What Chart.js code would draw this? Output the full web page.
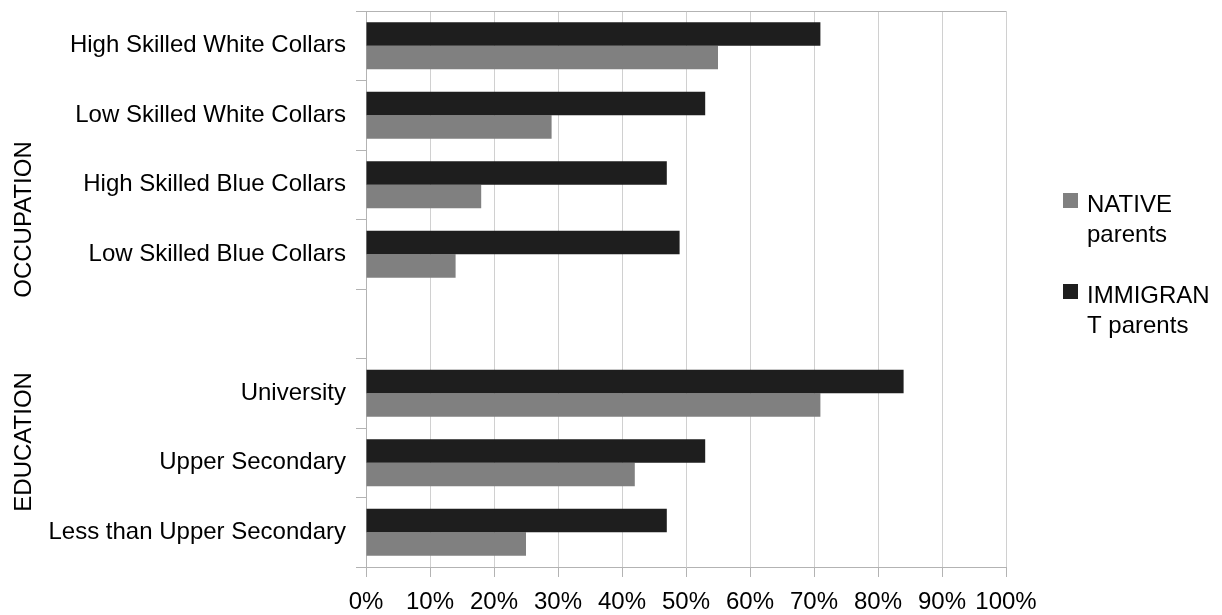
<!DOCTYPE html>
<html>
<head>
<meta charset="utf-8">
<script src="https://cdn.jsdelivr.net/npm/chart.js@4/dist/chart.umd.min.js"></script>
<style>
  html, body { margin: 0; padding: 0; background: #ffffff; }
  #wrap { width: 1222px; height: 615px; position: relative; }
  canvas { display: block; }
</style>
</head>
<body>
<div id="wrap"><canvas id="chart" width="1222" height="615"></canvas></div>
<script>
// Row labels, top to bottom; the blank row separates the two groups
const categories = [
  'High Skilled White Collars',
  'Low Skilled White Collars',
  'High Skilled Blue Collars',
  'Low Skilled Blue Collars',
  '',
  'University',
  'Upper Secondary',
  'Less than Upper Secondary'
];

// Share (%) by parents' origin
const immigrantParents = [71, 53, 47, 49, null, 84, 53, 47];
const nativeParents    = [55, 29, 18, 14, null, 71, 42, 25];

const seriesNames = {
  native: ['NATIVE', 'parents'],
  immigrant: ['IMMIGRAN', 'T parents']
};

// Group captions on the far left, positioned at a category index
const groupLabels = ['OCCUPATION', 'EDUCATION'];
const groupCenters = [2.5, 5.7];

const xTicks = [0, 10, 20, 30, 40, 50, 60, 70, 80, 90, 100];

const FONT = '"Liberation Sans", Arial, sans-serif';
const FONT_SIZE = 24;
const DARK = '#1e1e1e';
const GREY = '#808080';
const AXIS = '#b3b3b3';
const GRID = '#d0d0d0';

const sideLabels = {
  id: 'sideLabels',
  afterDraw(chart) {
    const ctx = chart.ctx;
    const y = chart.scales.y;
    ctx.save();
    ctx.fillStyle = '#000';
    ctx.font = FONT_SIZE + 'px ' + FONT;
    ctx.textAlign = 'center';
    ctx.textBaseline = 'middle';
    groupLabels.forEach((txt, i) => {
      const cy = y.getPixelForValue(groupCenters[i]);
      ctx.save();
      ctx.translate(24, cy);
      ctx.rotate(-Math.PI / 2);
      ctx.fillText(txt, 0, 0);
      ctx.restore();
    });

    // legend on the right, native first
    const items = [
      { lines: seriesNames.native, color: chart.data.datasets[1].backgroundColor, top: 193 },
      { lines: seriesNames.immigrant, color: chart.data.datasets[0].backgroundColor, top: 284 }
    ];
    ctx.textAlign = 'left';
    ctx.textBaseline = 'alphabetic';
    items.forEach(it => {
      ctx.fillStyle = it.color;
      ctx.fillRect(1063, it.top, 15, 15);
      ctx.fillStyle = '#000';
      it.lines.forEach((ln, k) => {
        ctx.fillText(ln, 1087, it.top + 19 + k * 30);
      });
    });
    ctx.restore();
  }
};

new Chart(document.getElementById('chart'), {
  type: 'bar',
  data: {
    labels: categories,
    datasets: [
      {
        label: 'IMMIGRANT parents',
        data: immigrantParents,
        backgroundColor: DARK,
        categoryPercentage: 0.676,
        barPercentage: 1.0
      },
      {
        label: 'NATIVE parents',
        data: nativeParents,
        backgroundColor: GREY,
        categoryPercentage: 0.676,
        barPercentage: 1.0
      }
    ]
  },
  options: {
    indexAxis: 'y',
    responsive: false,
    maintainAspectRatio: false,
    animation: false,
    devicePixelRatio: 1,
    layout: { padding: { left: 0, right: 216, top: 11, bottom: 0 } },
    plugins: {
      legend: { display: false },
      tooltip: { enabled: false }
    },
    scales: {
      x: {
        min: 0,
        max: 100,
        afterBuildTicks(scale) {
          scale.ticks = xTicks.map(v => ({ value: v }));
        },
        afterFit(scale) { scale.height = 48; },
        border: { display: true, color: AXIS, width: 1 },
        grid: {
          color: GRID,
          lineWidth: 1,
          tickLength: 10,
          tickColor: AXIS
        },
        ticks: {
          color: '#000',
          font: { family: FONT, size: FONT_SIZE },
          padding: 11,
          maxRotation: 0,
          autoSkip: false,
          callback: v => v + '%'
        }
      },
      y: {
        afterFit(scale) {
          scale.width = 366;
          scale.paddingTop = 0;
          scale.paddingBottom = 0;
        },
        border: { display: true, color: AXIS, width: 1 },
        grid: {
          offset: true,
          drawOnChartArea: true,
          color: ctx => ctx.index === 0 ? AXIS : 'rgba(0,0,0,0)',
          tickColor: AXIS,
          tickLength: 10,
          lineWidth: 1
        },
        ticks: {
          color: '#000',
          font: { family: FONT, size: FONT_SIZE },
          padding: 10,
          autoSkip: false
        }
      }
    }
  },
  plugins: [sideLabels]
});
</script>
</body>
</html>
